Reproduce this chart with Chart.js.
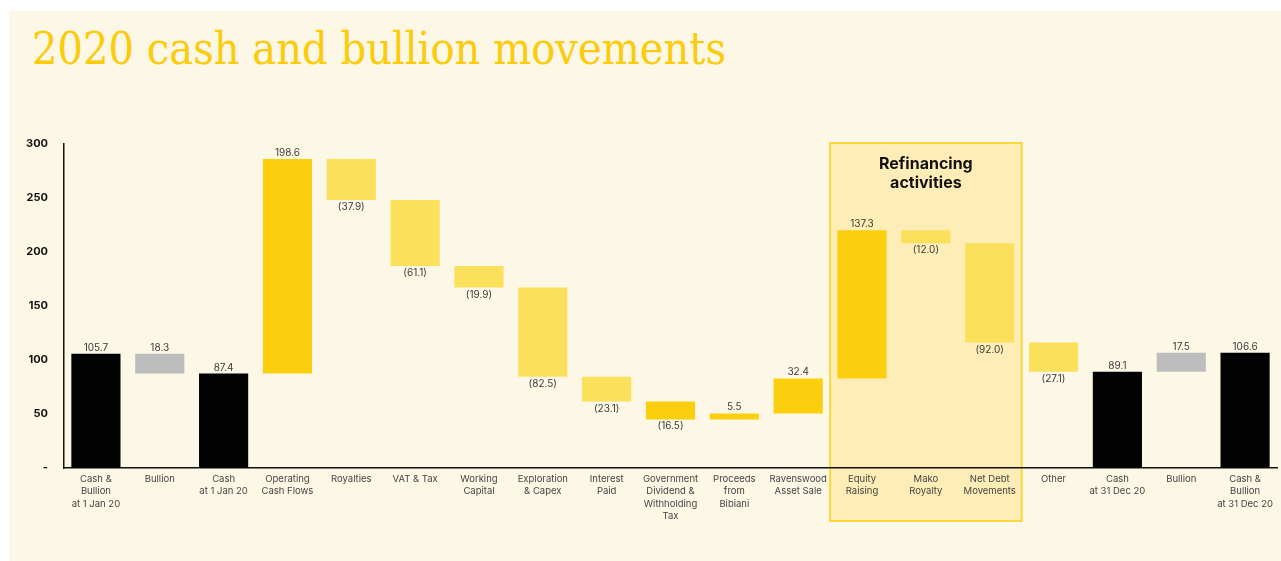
<!DOCTYPE html>
<html>
<head>
<meta charset="utf-8">
<script src="https://cdn.jsdelivr.net/npm/chart.js@4.4.1/dist/chart.umd.min.js"></script>
<style>
    html, body { margin: 0; padding: 0; background: #fff; width: 1281px; height: 561px; overflow: hidden; }
    #panel { position: absolute; left: 9px; top: 11px; width: 1272px; height: 550px; background: #FDF7E6; }
    #title { position: absolute; left: 32px; top: 22px; font-family: "DejaVu Serif"; font-size: 45px; color: #FCCB0A; white-space: nowrap; transform-origin: 0 0; }
    #wrap { position: absolute; left: 0; top: 0; width: 1281px; height: 561px; }
</style>
</head>
<body>
<div id="panel"></div>
<div id="title">2020 cash and bullion movements</div>
<div id="wrap"><canvas id="chart"></canvas></div>
<script>
// ---------------- DATA ----------------
const categories = [
    ["Cash &", "Bullion", "at 1 Jan 20"], "Bullion", ["Cash", "at 1 Jan 20"], ["Operating", "Cash Flows"],
    "Royalties", "VAT & Tax", ["Working", "Capital"], ["Exploration", "& Capex"], ["Interest", "Paid"],
    ["Government", "Dividend &", "Withholding", "Tax"], ["Proceeds", "from", "Bibiani"], ["Ravenswood", "Asset Sale"],
    ["Equity", "Raising"], ["Mako", "Royalty"], ["Net Debt", "Movements"], "Other",
    ["Cash", "at 31 Dec 20"], "Bullion", ["Cash &", "Bullion", "at 31 Dec 20"]
];
// "total" bars start at zero, "delta" bars float from the running total
const kinds = ["total", "delta", "total", "delta", "delta", "delta", "delta", "delta", "delta",
    "delta", "delta", "delta", "delta", "delta", "delta", "delta", "total", "delta", "total"];
const amounts = [105.7, -18.3, 87.4, 198.6, -37.9, -61.1, -19.9, -82.5, -23.1,
    -16.5, 5.5, 32.4, 137.3, -12.0, -92.0, -27.1, 89.1, 17.5, 106.6];
const valueLabels = ["105.7", "18.3", "87.4", "198.6", "(37.9)", "(61.1)", "(19.9)", "(82.5)", "(23.1)",
    "(16.5)", "5.5", "32.4", "137.3", "(12.0)", "(92.0)", "(27.1)", "89.1", "17.5", "106.6"];
const colorKeys = ["black", "grey", "black", "up", "down", "down", "down", "down", "down",
    "up", "up", "up", "up", "down", "down", "down", "black", "grey", "black"];
const yTicks = [0, 50, 100, 150, 200, 250, 300];
const refinancing = { from: 12, to: 14, lines: ["Refinancing", "activities"] };

const palette = { black: "#030303", grey: "#BDBDBD", up: "#FCCF0E", down: "#FBE05B" };

// ---------------- WATERFALL RANGES ----------------
let running = 0;
const ranges = amounts.map((a, i) => {
    if (kinds[i] === "total") {
        running = a;
        return [0, a];
    }
    const start = running;
    running = Math.round((running + a) * 10) / 10;
    return [start, running];
});

// ---------------- TITLE WIDTH ----------------
const title = document.getElementById("title");
const tw = title.getBoundingClientRect().width;
title.style.transform = "scaleX(" + (694 / tw) + ")";

// ---------------- PLUGINS ----------------
// drawn before the axes so the tick labels sit on top of the box
const refinancingBox = {
    id: "refinancingBox",
    beforeDraw(chart) {
        const { ctx, scales: { x } } = chart;
        const half = (x.getPixelForValue(1) - x.getPixelForValue(0)) / 2;
        const left = x.getPixelForValue(refinancing.from) - half;
        const right = x.getPixelForValue(refinancing.to) + half;
        ctx.save();
        ctx.fillStyle = "#FEEDB6";
        ctx.fillRect(left, 143, right - left, 378);
        ctx.strokeStyle = "#FCD73A";
        ctx.lineWidth = 2;
        ctx.strokeRect(left, 143, right - left, 378);
        ctx.fillStyle = "#111";
        ctx.font = "bold 16px Inter";
        ctx.textAlign = "center";
        ctx.textBaseline = "middle";
        refinancing.lines.forEach((t, i) => ctx.fillText(t, (left + right) / 2, 164 + i * 19));
        ctx.restore();
    }
};

const valueLabelPlugin = {
    id: "valueLabels",
    afterDatasetsDraw(chart) {
        const { ctx } = chart;
        const meta = chart.getDatasetMeta(0);
        ctx.save();
        ctx.font = "10px Inter";
        ctx.fillStyle = "#3a3a3a";
        ctx.textAlign = "center";
        meta.data.forEach((bar, i) => {
            const top = Math.min(bar.y, bar.base);
            const bottom = Math.max(bar.y, bar.base);
            if (valueLabels[i].startsWith("(")) {
                ctx.textBaseline = "top";
                ctx.fillText(valueLabels[i], bar.x, bottom + 2);
            } else {
                ctx.textBaseline = "bottom";
                ctx.fillText(valueLabels[i], bar.x, top - 1);
            }
        });
        ctx.restore();
    }
};

// ---------------- CHART ----------------
new Chart(document.getElementById("chart"), {
    type: "bar",
    data: {
        labels: categories,
        datasets: [{
            data: ranges,
            backgroundColor: colorKeys.map(k => palette[k]),
            barPercentage: 0.77,
            categoryPercentage: 1
        }]
    },
    options: {
        responsive: true,
        maintainAspectRatio: false,
        animation: false,
        layout: { padding: { top: 144, right: 4, left: 0, bottom: 0 } },
        plugins: { legend: { display: false }, tooltip: { enabled: false } },
        scales: {
            x: {
                grid: { display: false, drawTicks: false },
                border: { display: true, color: "#111", width: 1.5 },
                ticks: {
                    autoSkip: false,
                    maxRotation: 0,
                    padding: 5,
                    color: "#444",
                    font: { family: "Inter", size: 9.5, lineHeight: 1.3 }
                },
                afterFit(scale) { scale.height = 93; }
            },
            y: {
                min: 0,
                max: 300,
                afterBuildTicks(scale) { scale.ticks = yTicks.map(v => ({ value: v })); },
                grid: { display: false },
                border: { display: true, color: "#111", width: 1.5 },
                ticks: {
                    padding: 8,
                    color: "#111",
                    font: { family: "Inter", size: 11, weight: "bold" },
                    callback: v => v === 0 ? "-" : v
                },
                afterFit(scale) { scale.width = 64; }
            }
        }
    },
    plugins: [refinancingBox, valueLabelPlugin]
});
</script>
</body>
</html>
